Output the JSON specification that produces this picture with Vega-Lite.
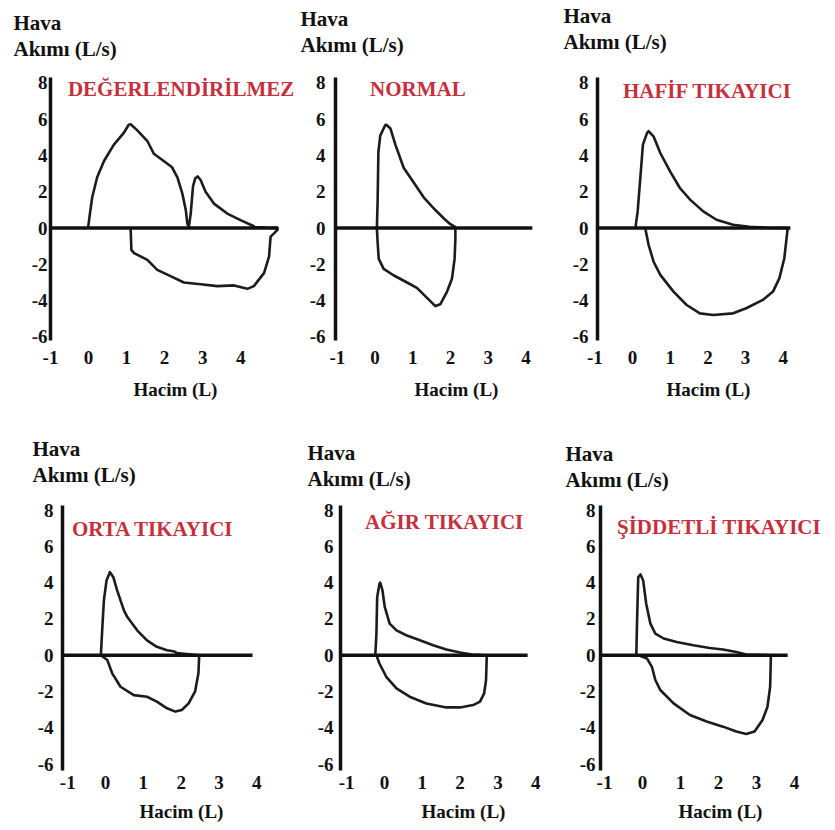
{
  "$schema": "https://vega.github.io/schema/vega-lite/v6.json",
  "background": "white",
  "padding": {"left": 13, "top": 5, "right": 5, "bottom": 5},
  "config": {
    "view": {"stroke": null},
    "axis": {"labelFont": "Liberation Serif", "labelFontWeight": "bold", "labelFontSize": 19, "labelColor": "#111", "titleFont": "Liberation Serif", "titleFontWeight": "bold", "titleColor": "#111", "grid": false, "ticks": false, "tickSize": 0, "labelFlush": false, "labelOverlap": false, "tickCount": 20, "labelExpr": "'' + datum.value"},
    "axisY": {"domainWidth": 3.5, "domainColor": "#111", "titleAngle": 0, "titleAlign": "left", "titleBaseline": "alphabetic", "titleFontSize": 21, "titleLineHeight": 26, "labelAlign": "right", "labelBaseline": "middle"},
    "axisX": {"domain": false, "titleFontSize": 19, "titleAlign": "center", "titleBaseline": "alphabetic"},
    "line": {"color": "#1c1c1c", "strokeWidth": 2.6, "strokeJoin": "round"},
    "rule": {"color": "#111", "strokeWidth": 3.5},
    "text": {"font": "Liberation Serif", "fontWeight": "bold", "fontSize": 21, "color": "#c62f3d", "align": "left", "baseline": "middle"}
  },
  "datasets": {
    "loops": [
      {"p":"P1","i":0,"v":0,"f":0},{"p":"P1","i":1,"v":0.05,"f":0.8},{"p":"P1","i":2,"v":0.11,"f":1.7},{"p":"P1","i":3,"v":0.24,"f":2.8},{"p":"P1","i":4,"v":0.42,"f":3.7},{"p":"P1","i":5,"v":0.68,"f":4.6},{"p":"P1","i":6,"v":0.94,"f":5.25},{"p":"P1","i":7,"v":1.07,"f":5.7},{"p":"P1","i":8,"v":1.12,"f":5.72},{"p":"P1","i":9,"v":1.29,"f":5.4},{"p":"P1","i":10,"v":1.56,"f":4.8},{"p":"P1","i":11,"v":1.73,"f":4.1},{"p":"P1","i":12,"v":1.99,"f":3.7},{"p":"P1","i":13,"v":2.21,"f":3.35},{"p":"P1","i":14,"v":2.35,"f":2.8},{"p":"P1","i":15,"v":2.48,"f":1.9},{"p":"P1","i":16,"v":2.57,"f":1.0},{"p":"P1","i":17,"v":2.61,"f":0.25},{"p":"P1","i":18,"v":2.65,"f":0.05},{"p":"P1","i":19,"v":2.70,"f":0.8},{"p":"P1","i":20,"v":2.76,"f":2.3},{"p":"P1","i":21,"v":2.82,"f":2.75},{"p":"P1","i":22,"v":2.88,"f":2.85},{"p":"P1","i":23,"v":2.96,"f":2.65},{"p":"P1","i":24,"v":3.09,"f":2.0},{"p":"P1","i":25,"v":3.31,"f":1.35},{"p":"P1","i":26,"v":3.66,"f":0.8},{"p":"P1","i":27,"v":4.01,"f":0.44},{"p":"P1","i":28,"v":4.36,"f":0.1},{"p":"P1","i":29,"v":4.71,"f":0.02},{"p":"P1","i":30,"v":4.98,"f":0},{"p":"P1","i":31,"v":4.98,"f":-0.1},{"p":"P1","i":32,"v":4.89,"f":-0.29},{"p":"P1","i":33,"v":4.80,"f":-0.47},{"p":"P1","i":34,"v":4.76,"f":-1.56},{"p":"P1","i":35,"v":4.63,"f":-2.47},{"p":"P1","i":36,"v":4.36,"f":-3.2},{"p":"P1","i":37,"v":4.19,"f":-3.35},{"p":"P1","i":38,"v":3.84,"f":-3.16},{"p":"P1","i":39,"v":3.40,"f":-3.2},{"p":"P1","i":40,"v":2.96,"f":-3.1},{"p":"P1","i":41,"v":2.52,"f":-3.0},{"p":"P1","i":42,"v":2.17,"f":-2.65},{"p":"P1","i":43,"v":1.82,"f":-2.3},{"p":"P1","i":44,"v":1.56,"f":-1.75},{"p":"P1","i":45,"v":1.21,"f":-1.38},{"p":"P1","i":46,"v":1.14,"f":-1.2},{"p":"P1","i":47,"v":1.12,"f":0},
      {"p":"P2","i":0,"v":0.06,"f":0},{"p":"P2","i":1,"v":0.08,"f":1.5},{"p":"P2","i":2,"v":0.10,"f":4.2},{"p":"P2","i":3,"v":0.15,"f":5.1},{"p":"P2","i":4,"v":0.28,"f":5.67},{"p":"P2","i":5,"v":0.31,"f":5.7},{"p":"P2","i":6,"v":0.42,"f":5.49},{"p":"P2","i":7,"v":0.55,"f":4.6},{"p":"P2","i":8,"v":0.77,"f":3.33},{"p":"P2","i":9,"v":1.04,"f":2.5},{"p":"P2","i":10,"v":1.30,"f":1.7},{"p":"P2","i":11,"v":1.57,"f":1.08},{"p":"P2","i":12,"v":1.83,"f":0.54},{"p":"P2","i":13,"v":2.00,"f":0.23},{"p":"P2","i":14,"v":2.14,"f":0.05},{"p":"P2","i":15,"v":2.14,"f":-0.63},{"p":"P2","i":16,"v":2.12,"f":-1.7},{"p":"P2","i":17,"v":2.05,"f":-2.79},{"p":"P2","i":18,"v":1.92,"f":-3.5},{"p":"P2","i":19,"v":1.74,"f":-4.2},{"p":"P2","i":20,"v":1.61,"f":-4.3},{"p":"P2","i":21,"v":1.39,"f":-3.85},{"p":"P2","i":22,"v":1.12,"f":-3.3},{"p":"P2","i":23,"v":0.86,"f":-3.0},{"p":"P2","i":24,"v":0.50,"f":-2.6},{"p":"P2","i":25,"v":0.24,"f":-2.25},{"p":"P2","i":26,"v":0.11,"f":-1.7},{"p":"P2","i":27,"v":0.08,"f":-0.8},{"p":"P2","i":28,"v":0.06,"f":0},
      {"p":"P3","i":0,"v":0.09,"f":0},{"p":"P3","i":1,"v":0.15,"f":0.92},{"p":"P3","i":2,"v":0.22,"f":2.76},{"p":"P3","i":3,"v":0.29,"f":4.6},{"p":"P3","i":4,"v":0.40,"f":5.25},{"p":"P3","i":5,"v":0.44,"f":5.34},{"p":"P3","i":6,"v":0.57,"f":5.06},{"p":"P3","i":7,"v":0.75,"f":4.14},{"p":"P3","i":8,"v":1.01,"f":3.13},{"p":"P3","i":9,"v":1.27,"f":2.21},{"p":"P3","i":10,"v":1.54,"f":1.57},{"p":"P3","i":11,"v":1.89,"f":0.92},{"p":"P3","i":12,"v":2.24,"f":0.46},{"p":"P3","i":13,"v":2.68,"f":0.18},{"p":"P3","i":14,"v":3.12,"f":0.07},{"p":"P3","i":15,"v":3.56,"f":0.02},{"p":"P3","i":16,"v":4.13,"f":0},{"p":"P3","i":17,"v":4.10,"f":-0.55},{"p":"P3","i":18,"v":4.04,"f":-1.66},{"p":"P3","i":19,"v":3.91,"f":-2.76},{"p":"P3","i":20,"v":3.74,"f":-3.5},{"p":"P3","i":21,"v":3.47,"f":-3.96},{"p":"P3","i":22,"v":3.03,"f":-4.42},{"p":"P3","i":23,"v":2.68,"f":-4.7},{"p":"P3","i":24,"v":2.15,"f":-4.79},{"p":"P3","i":25,"v":1.80,"f":-4.7},{"p":"P3","i":26,"v":1.45,"f":-4.24},{"p":"P3","i":27,"v":1.10,"f":-3.5},{"p":"P3","i":28,"v":0.75,"f":-2.58},{"p":"P3","i":29,"v":0.57,"f":-1.84},{"p":"P3","i":30,"v":0.44,"f":-0.92},{"p":"P3","i":31,"v":0.35,"f":0},
      {"p":"P4","i":0,"v":-0.11,"f":0},{"p":"P4","i":1,"v":-0.07,"f":1.56},{"p":"P4","i":2,"v":-0.03,"f":3.02},{"p":"P4","i":3,"v":0.04,"f":4.12},{"p":"P4","i":4,"v":0.13,"f":4.58},{"p":"P4","i":5,"v":0.22,"f":4.3},{"p":"P4","i":6,"v":0.32,"f":3.57},{"p":"P4","i":7,"v":0.50,"f":2.47},{"p":"P4","i":8,"v":0.59,"f":2.1},{"p":"P4","i":9,"v":0.85,"f":1.37},{"p":"P4","i":10,"v":1.11,"f":0.82},{"p":"P4","i":11,"v":1.37,"f":0.46},{"p":"P4","i":12,"v":1.64,"f":0.27},{"p":"P4","i":13,"v":1.81,"f":0.22},{"p":"P4","i":14,"v":1.90,"f":0.12},{"p":"P4","i":15,"v":2.49,"f":0},{"p":"P4","i":16,"v":2.47,"f":-1.0},{"p":"P4","i":17,"v":2.38,"f":-2.01},{"p":"P4","i":18,"v":2.21,"f":-2.66},{"p":"P4","i":19,"v":2.03,"f":-3.02},{"p":"P4","i":20,"v":1.86,"f":-3.11},{"p":"P4","i":21,"v":1.64,"f":-2.93},{"p":"P4","i":22,"v":1.37,"f":-2.56},{"p":"P4","i":23,"v":1.11,"f":-2.29},{"p":"P4","i":24,"v":0.76,"f":-2.2},{"p":"P4","i":25,"v":0.41,"f":-1.74},{"p":"P4","i":26,"v":0.19,"f":-1.0},{"p":"P4","i":27,"v":0.06,"f":-0.27},{"p":"P4","i":28,"v":-0.11,"f":0},
      {"p":"P5","i":0,"v":-0.23,"f":0},{"p":"P5","i":1,"v":-0.20,"f":1.19},{"p":"P5","i":2,"v":-0.18,"f":3.2},{"p":"P5","i":3,"v":-0.12,"f":3.94},{"p":"P5","i":4,"v":-0.10,"f":4.0},{"p":"P5","i":5,"v":-0.04,"f":3.57},{"p":"P5","i":6,"v":0.02,"f":2.66},{"p":"P5","i":7,"v":0.15,"f":1.74},{"p":"P5","i":8,"v":0.33,"f":1.37},{"p":"P5","i":9,"v":0.59,"f":1.1},{"p":"P5","i":10,"v":0.95,"f":0.82},{"p":"P5","i":11,"v":1.30,"f":0.55},{"p":"P5","i":12,"v":1.65,"f":0.31},{"p":"P5","i":13,"v":2.01,"f":0.15},{"p":"P5","i":14,"v":2.32,"f":0.04},{"p":"P5","i":15,"v":2.72,"f":0},{"p":"P5","i":16,"v":2.70,"f":-1.37},{"p":"P5","i":17,"v":2.65,"f":-2.11},{"p":"P5","i":18,"v":2.54,"f":-2.56},{"p":"P5","i":19,"v":2.36,"f":-2.75},{"p":"P5","i":20,"v":2.01,"f":-2.88},{"p":"P5","i":21,"v":1.65,"f":-2.88},{"p":"P5","i":22,"v":1.12,"f":-2.66},{"p":"P5","i":23,"v":0.68,"f":-2.29},{"p":"P5","i":24,"v":0.33,"f":-1.83},{"p":"P5","i":25,"v":0.06,"f":-1.19},{"p":"P5","i":26,"v":-0.12,"f":-0.46},{"p":"P5","i":27,"v":-0.20,"f":0},
      {"p":"P6","i":0,"v":-0.15,"f":0},{"p":"P6","i":1,"v":-0.13,"f":1.92},{"p":"P6","i":2,"v":-0.10,"f":4.3},{"p":"P6","i":3,"v":-0.06,"f":4.4},{"p":"P6","i":4,"v":-0.04,"f":4.45},{"p":"P6","i":5,"v":0.03,"f":4.12},{"p":"P6","i":6,"v":0.11,"f":2.84},{"p":"P6","i":7,"v":0.22,"f":1.74},{"p":"P6","i":8,"v":0.35,"f":1.19},{"p":"P6","i":9,"v":0.57,"f":0.92},{"p":"P6","i":10,"v":0.91,"f":0.73},{"p":"P6","i":11,"v":1.35,"f":0.55},{"p":"P6","i":12,"v":1.78,"f":0.4},{"p":"P6","i":13,"v":2.13,"f":0.31},{"p":"P6","i":14,"v":2.48,"f":0.18},{"p":"P6","i":15,"v":2.74,"f":0.04},{"p":"P6","i":16,"v":3.39,"f":0},{"p":"P6","i":17,"v":3.37,"f":-1.74},{"p":"P6","i":18,"v":3.30,"f":-2.84},{"p":"P6","i":19,"v":3.17,"f":-3.57},{"p":"P6","i":20,"v":2.96,"f":-4.21},{"p":"P6","i":21,"v":2.74,"f":-4.34},{"p":"P6","i":22,"v":2.48,"f":-4.21},{"p":"P6","i":23,"v":2.13,"f":-3.94},{"p":"P6","i":24,"v":1.70,"f":-3.66},{"p":"P6","i":25,"v":1.26,"f":-3.3},{"p":"P6","i":26,"v":0.83,"f":-2.66},{"p":"P6","i":27,"v":0.48,"f":-1.92},{"p":"P6","i":28,"v":0.35,"f":-1.37},{"p":"P6","i":29,"v":0.26,"f":-0.64},{"p":"P6","i":30,"v":0.13,"f":-0.18},{"p":"P6","i":31,"v":-0.09,"f":0}
    ]
  },
  "bounds": "flush",
  "columns": 3,
  "spacing": {"row": 165, "column": 53},
  "concat": [
    {
      "width": 232, "height": 263,
      "layer": [
        {"data": {"name": "loops"}, "transform": [{"filter": "datum.p == 'P1'"}], "mark": "line",
         "encoding": {
           "x": {"field": "v", "type": "quantitative", "scale": {"domain": [-1, 5.1], "nice": false, "zero": false}, "axis": {"values": [-1,0,1,2,3,4], "tickCount": 20, "title": "Hacim (L)", "titleX": 125, "titleY": 55, "labelPadding": 8.5, "labelOverlap": false}},
           "y": {"field": "f", "type": "quantitative", "scale": {"domain": [-6.17, 8.33], "nice": false, "zero": false}, "axis": {"values": [-6,-4,-2,0,2,4,6,8], "tickCount": 20, "title": ["Hava", "Akımı (L/s)"], "titleX": -37, "titleY": -48, "labelPadding": 3, "labelOverlap": false}},
           "order": {"field": "i", "type": "quantitative"}}},
        {"data": {"values": [{}]}, "mark": "rule", "encoding": {"x": {"datum": -1}, "x2": {"datum": 5.0}, "y": {"datum": 0}}},
        {"data": {"values": [{}]}, "mark": "text", "encoding": {"x": {"datum": -0.53}, "y": {"datum": 7.61}, "text": {"value": "DEĞERLENDİRİLMEZ"}}}
      ]
    },
    {
      "width": 206, "height": 263,
      "layer": [
        {"data": {"name": "loops"}, "transform": [{"filter": "datum.p == 'P2'"}], "mark": "line",
         "encoding": {
           "x": {"field": "v", "type": "quantitative", "scale": {"domain": [-1.05, 4.41], "nice": false, "zero": false}, "axis": {"values": [-1,0,1,2,3,4], "tickCount": 20, "title": "Hacim (L)", "titleX": 121, "titleY": 55, "labelPadding": 8.5, "labelOverlap": false}},
           "y": {"field": "f", "type": "quantitative", "scale": {"domain": [-6.17, 8.33], "nice": false, "zero": false}, "axis": {"values": [-6,-4,-2,0,2,4,6,8], "tickCount": 20, "title": ["Hava", "Akımı (L/s)"], "titleX": -35, "titleY": -52, "labelPadding": 10, "labelOverlap": false}},
           "order": {"field": "i", "type": "quantitative"}}},
        {"data": {"values": [{}]}, "mark": "rule", "encoding": {"x": {"datum": -1.05}, "x2": {"datum": 4.18}, "y": {"datum": 0}}},
        {"data": {"values": [{}]}, "mark": "text", "encoding": {"x": {"datum": -0.12}, "y": {"datum": 7.61}, "text": {"value": "NORMAL"}}}
      ]
    },
    {
      "width": 202, "height": 263,
      "layer": [
        {"data": {"name": "loops"}, "transform": [{"filter": "datum.p == 'P3'"}], "mark": "line",
         "encoding": {
           "x": {"field": "v", "type": "quantitative", "scale": {"domain": [-1.008, 4.35], "nice": false, "zero": false}, "axis": {"values": [-1,0,1,2,3,4], "tickCount": 20, "title": "Hacim (L)", "titleX": 114, "titleY": 55, "labelPadding": 8.5, "labelOverlap": false}},
           "y": {"field": "f", "type": "quantitative", "scale": {"domain": [-6.17, 8.33], "nice": false, "zero": false}, "axis": {"values": [-6,-4,-2,0,2,4,6,8], "tickCount": 20, "title": ["Hava", "Akımı (L/s)"], "titleX": -34, "titleY": -55, "labelPadding": 9, "offset": -3, "labelOverlap": false}},
           "order": {"field": "i", "type": "quantitative"}}},
        {"data": {"values": [{}]}, "mark": "rule", "encoding": {"x": {"datum": -0.93}, "x2": {"datum": 4.2}, "y": {"datum": 0}}},
        {"data": {"values": [{}]}, "mark": "text", "encoding": {"x": {"datum": -0.24}, "y": {"datum": 7.5}, "text": {"value": "HAFİF TIKAYICI"}}}
      ]
    },
    {
      "width": 232, "height": 265,
      "layer": [
        {"data": {"name": "loops"}, "transform": [{"filter": "datum.p == 'P4'"}], "mark": "line",
         "encoding": {
           "x": {"field": "v", "type": "quantitative", "scale": {"domain": [-1.455, 4.68], "nice": false, "zero": false}, "axis": {"values": [-1,0,1,2,3,4], "tickCount": 20, "title": "Hacim (L)", "titleX": 131, "titleY": 47, "labelPadding": 3.5, "labelOverlap": false}},
           "y": {"field": "f", "type": "quantitative", "scale": {"domain": [-6.33, 8.28], "nice": false, "zero": false}, "axis": {"values": [-6,-4,-2,0,2,4,6,8], "tickCount": 20, "title": ["Hava", "Akımı (L/s)"], "titleX": -30, "titleY": -50, "labelPadding": 9, "offset": -12, "labelOverlap": false}},
           "order": {"field": "i", "type": "quantitative"}}},
        {"data": {"values": [{}]}, "mark": "rule", "encoding": {"x": {"datum": -1.14}, "x2": {"datum": 3.9}, "y": {"datum": 0}}},
        {"data": {"values": [{}]}, "mark": "text", "encoding": {"x": {"datum": -0.873}, "y": {"datum": 6.9}, "text": {"value": "ORTA TIKAYICI"}}}
      ]
    },
    {
      "width": 206, "height": 265,
      "layer": [
        {"data": {"name": "loops"}, "transform": [{"filter": "datum.p == 'P5'"}], "mark": "line",
         "encoding": {
           "x": {"field": "v", "type": "quantitative", "scale": {"domain": [-1.296, 4.154], "nice": false, "zero": false}, "axis": {"values": [-1,0,1,2,3,4], "tickCount": 20, "title": "Hacim (L)", "titleX": 128, "titleY": 47, "labelPadding": 3.5, "labelOverlap": false}},
           "y": {"field": "f", "type": "quantitative", "scale": {"domain": [-6.33, 8.28], "nice": false, "zero": false}, "axis": {"values": [-6,-4,-2,0,2,4,6,8], "tickCount": 20, "title": ["Hava", "Akımı (L/s)"], "titleX": -33, "titleY": -46, "labelPadding": 7, "offset": -5, "labelOverlap": false}},
           "order": {"field": "i", "type": "quantitative"}}},
        {"data": {"values": [{}]}, "mark": "rule", "encoding": {"x": {"datum": -1.16}, "x2": {"datum": 3.8}, "y": {"datum": 0}}},
        {"data": {"values": [{}]}, "mark": "text", "encoding": {"x": {"datum": -0.5}, "y": {"datum": 7.29}, "text": {"value": "AĞIR TIKAYICI"}}}
      ]
    },
    {
      "width": 202, "height": 265,
      "layer": [
        {"data": {"name": "loops"}, "transform": [{"filter": "datum.p == 'P6'"}], "mark": "line",
         "encoding": {
           "x": {"field": "v", "type": "quantitative", "scale": {"domain": [-1.263, 4.05], "nice": false, "zero": false}, "axis": {"values": [-1,0,1,2,3,4], "tickCount": 20, "title": "Hacim (L)", "titleX": 126, "titleY": 47, "labelPadding": 3.5, "labelOverlap": false}},
           "y": {"field": "f", "type": "quantitative", "scale": {"domain": [-6.33, 8.28], "nice": false, "zero": false}, "axis": {"values": [-6,-4,-2,0,2,4,6,8], "tickCount": 20, "title": ["Hava", "Akımı (L/s)"], "titleX": -35, "titleY": -45, "labelPadding": 5, "offset": -6, "labelOverlap": false}},
           "order": {"field": "i", "type": "quantitative"}}},
        {"data": {"values": [{}]}, "mark": "rule", "encoding": {"x": {"datum": -1.1}, "x2": {"datum": 3.83}, "y": {"datum": 0}}},
        {"data": {"values": [{}]}, "mark": "text", "encoding": {"x": {"datum": -0.658}, "y": {"datum": 7.01}, "text": {"value": "ŞİDDETLİ TIKAYICI"}}}
      ]
    }
  ]
}
